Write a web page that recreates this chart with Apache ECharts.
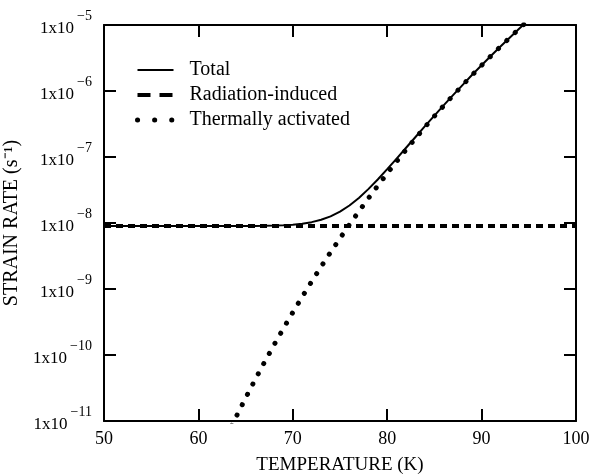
<!DOCTYPE html>
<html>
<head>
<meta charset="utf-8">
<script src="https://cdn.jsdelivr.net/npm/echarts@6/dist/echarts.min.js"></script>
<style>
  html, body { margin: 0; padding: 0; background: #fff; }
  #chart01 { width: 594px; height: 475px; }
</style>
</head>
<body>
<div id="chart01"></div>
<script>
// temperatures (K)
var temps = [50, 51, 52, 53, 54, 55, 56, 57, 58, 59, 60, 61, 62, 63, 64, 65, 66, 67, 68, 69, 70, 71, 72, 73, 74, 75, 76, 77, 78, 79, 80, 81, 82, 83, 84, 85, 86, 87, 88, 89, 90, 91, 92, 93, 94, 95];
// strain rates (1/s)
var totalRate = [9.0e-9, 9.0e-9, 9.0e-9, 9.0e-9, 9.0e-9, 9.0e-9, 9.0e-9, 9.0e-9, 9.0e-9, 9.0e-9, 9.0e-9, 9.0e-9, 9.0e-9, 9.01e-9, 9.01e-9, 9.02e-9, 9.04e-9, 9.08e-9, 9.14e-9, 9.25e-9, 9.44e-9, 9.76e-9, 1.03e-8, 1.12e-8, 1.26e-8, 1.49e-8, 1.84e-8, 2.40e-8, 3.26e-8, 4.56e-8, 6.54e-8, 9.47e-8, 1.38e-7, 2.01e-7, 2.93e-7, 4.24e-7, 6.10e-7, 8.74e-7, 1.24e-6, 1.76e-6, 2.46e-6, 3.42e-6, 4.73e-6, 6.48e-6, 8.84e-6, 1.20e-5];
var radiationTemps = [50, 60, 70, 80, 90, 100];
var radiationRate = [9.0e-9, 9.0e-9, 9.0e-9, 9.0e-9, 9.0e-9, 9.0e-9];
var thermalTemps = [63, 64, 65, 66, 67, 68, 69, 70, 71, 72, 73, 74, 75, 76, 77, 78, 79, 80, 81, 82, 83, 84, 85, 86, 87, 88, 89, 90, 91, 92, 93, 94, 95];
var thermalRate = [5.94e-12, 1.16e-11, 2.23e-11, 4.21e-11, 7.78e-11, 1.41e-10, 2.52e-10, 4.42e-10, 7.64e-10, 1.30e-9, 2.18e-9, 3.60e-9, 5.86e-9, 9.44e-9, 1.50e-8, 2.36e-8, 3.66e-8, 5.64e-8, 8.57e-8, 1.29e-7, 1.92e-7, 2.84e-7, 4.15e-7, 6.01e-7, 8.65e-7, 1.23e-6, 1.75e-6, 2.45e-6, 3.41e-6, 4.72e-6, 6.47e-6, 8.83e-6, 1.20e-5];
// tick labels
var xTicks = [50, 60, 70, 80, 90, 100];
var yExponents = [-11, -10, -9, -8, -7, -6, -5];
var seriesNames = ['Total', 'Radiation-induced', 'Thermally activated'];

function pairs(xs, ys) {
    var out = [];
    for (var i = 0; i < xs.length; i++) out.push([xs[i], ys[i]]);
    return out;
}

var serif = 'Liberation Serif';
var myChart01 = echarts.init(document.getElementById('chart01'));
var option = {
    backgroundColor: '#fff',
    animation: false,
    grid: { left: 104, right: 18, top: 25, bottom: 54, containLabel: false, outerBoundsMode: 'none' },
    legend: {
        orient: 'vertical',
        left: 130,
        top: 55,
        itemWidth: 36,
        itemHeight: 14,
        itemGap: 5,
        itemStyle: { opacity: 0 },
        data: [
            { name: seriesNames[0] },
            { name: seriesNames[1], lineStyle: { type: [13, 9], width: 4 } },
            { name: seriesNames[2], lineStyle: { type: [0.1, 17], width: 5, cap: 'round' } }
        ],
        textStyle: { fontFamily: serif, fontSize: 20, color: '#000', padding: [0, 0, 0, 11] }
    },
    xAxis: [{
        type: 'value',
        min: 50, max: 100, interval: 10,
        name: 'TEMPERATURE (K)',
        nameLocation: 'middle',
        nameGap: 35,
        nameTextStyle: { fontFamily: serif, fontSize: 19, color: '#000' },
        axisLine: { lineStyle: { color: '#000', width: 2 } },
        axisTick: { inside: true, length: 12, lineStyle: { color: '#000', width: 2 } },
        axisLabel: {
            fontFamily: serif, fontSize: 18, color: '#000', margin: 9,
            formatter: function (v) { return xTicks.indexOf(v) >= 0 ? String(v) : ''; }
        },
        splitLine: { show: false }
    }, {
        type: 'value', position: 'top',
        min: 50, max: 100, interval: 10,
        axisLine: { lineStyle: { color: '#000', width: 2 } },
        axisTick: { inside: true, length: 12, lineStyle: { color: '#000', width: 2 } },
        axisLabel: { show: false },
        splitLine: { show: false }
    }],
    yAxis: [{
        type: 'log', logBase: 10,
        min: 1e-11, max: 1e-5,
        name: 'STRAIN RATE (s\u207B\u00B9)',
        nameLocation: 'middle',
        nameGap: 71,
        nameTextStyle: { fontFamily: serif, fontSize: 20, color: '#000' },
        axisLine: { lineStyle: { color: '#000', width: 2 } },
        axisTick: { inside: true, length: 12, lineStyle: { color: '#000', width: 2 } },
        axisLabel: {
            margin: 12,
            padding: [8, 0, 0, 0],
            formatter: function (v) {
                var e = Math.round(Math.log10(v));
                if (yExponents.indexOf(e) < 0) return '';
                return '{b|1x10}{s|\u2212' + Math.abs(e) + '}';
            },
            rich: {
                b: { fontFamily: serif, fontSize: 17, lineHeight: 17, color: '#000' },
                s: { fontFamily: serif, fontSize: 14, lineHeight: 14, color: '#000', padding: [0, 0, 26, 3] }
            }
        },
        splitLine: { show: false }
    }, {
        type: 'log', logBase: 10, position: 'right',
        min: 1e-11, max: 1e-5,
        axisLine: { lineStyle: { color: '#000', width: 2 } },
        axisTick: { inside: true, length: 12, lineStyle: { color: '#000', width: 2 } },
        axisLabel: { show: false },
        splitLine: { show: false }
    }],
    series: [{
        name: seriesNames[2],
        type: 'line',
        symbol: 'none',
        clip: true,
        data: pairs(thermalTemps, thermalRate),
        lineStyle: { color: '#000', width: 5, type: [0.1, 11.5], cap: 'round' },
        itemStyle: { color: '#000' },
        z: 2
    }, {
        name: seriesNames[1],
        type: 'line',
        symbol: 'none',
        clip: true,
        data: pairs(radiationTemps, radiationRate),
        lineStyle: { color: '#000', width: 4, type: [7, 5] },
        itemStyle: { color: '#000' },
        z: 3
    }, {
        name: seriesNames[0],
        type: 'line',
        symbol: 'none',
        clip: true,
        data: pairs(temps, totalRate),
        lineStyle: { color: '#000', width: 2 },
        itemStyle: { color: '#000' },
        z: 4
    }]
};
myChart01.setOption(option);
</script>
</body>
</html>
